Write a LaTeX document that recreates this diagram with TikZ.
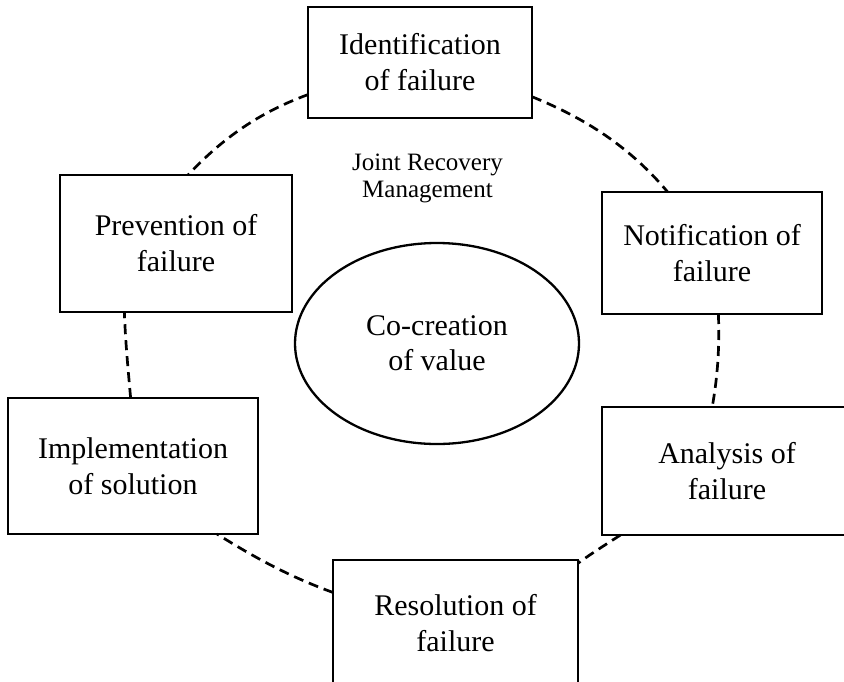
\documentclass[tikz,border=0pt]{standalone}
\usepackage{fontspec}
\setmainfont{Liberation Serif}
\usetikzlibrary{shapes.geometric}
\begin{document}
\begin{tikzpicture}[x=1pt,y=1pt,
  stage/.style={draw, line width=2.9pt, fill=white, inner sep=0pt, outer sep=0pt,
    align=center, font=\fontsize{30}{36}\selectfont},
  core/.style={ellipse, draw, line width=2.3pt, inner sep=0pt, outer sep=0pt,
    minimum width=284pt, minimum height=201pt, align=center,
    font=\fontsize{30}{35}\selectfont},
  caption/.style={align=center, font=\fontsize{25}{27}\selectfont},
  link/.style={line width=2.7pt, dash pattern=on 10pt off 6pt, looseness=0.9}]
\useasboundingbox (0,0) rectangle (844,-681);
\clip (0,0) rectangle (844,-681);

% the six stages of the recovery cycle
\node[stage, minimum width=224pt, minimum height=111pt] (ident) at (420,-62.5) {Identification\\of failure};
\node[stage, minimum width=220pt, minimum height=122pt] (notif) at (712,-253) {Notification of\\failure};
\node[stage, minimum width=250pt, minimum height=128pt] (anal) at (727,-471) {Analysis of\\failure};
\node[stage, minimum width=245pt, minimum height=126pt] (resol) at (455.5,-623) {Resolution of\\failure};
\node[stage, minimum width=250pt, minimum height=136pt] (impl) at (133,-466) {Implementation\\of solution};
\node[stage, minimum width=232pt, minimum height=137pt] (prev) at (176,-243.5) {Prevention of\\failure};

% centre of the cycle
\node[core] (value) at (437,-343.5) {Co-creation\\of value};
\node[caption] (jrm) at (427.5,-178.5) {Joint Recovery\\Management};

% dashed links around the cycle
\draw[link] (ident.196) to[out=200,in=47] (prev.80);
\draw[link] (ident.343) to[out=-22,in=130] (notif.126);
\draw[link] (notif.276.5) to[out=-88,in=80] (anal.103);
\draw[link] (anal.211.4) to[out=213,in=36] (resol.26.5);
\draw[link] (resol.166) to[out=160,in=-32] (impl.321);
\draw[link] (impl.92.5) to[out=95,in=-88] (prev.233.3);
\end{tikzpicture}
\end{document}
